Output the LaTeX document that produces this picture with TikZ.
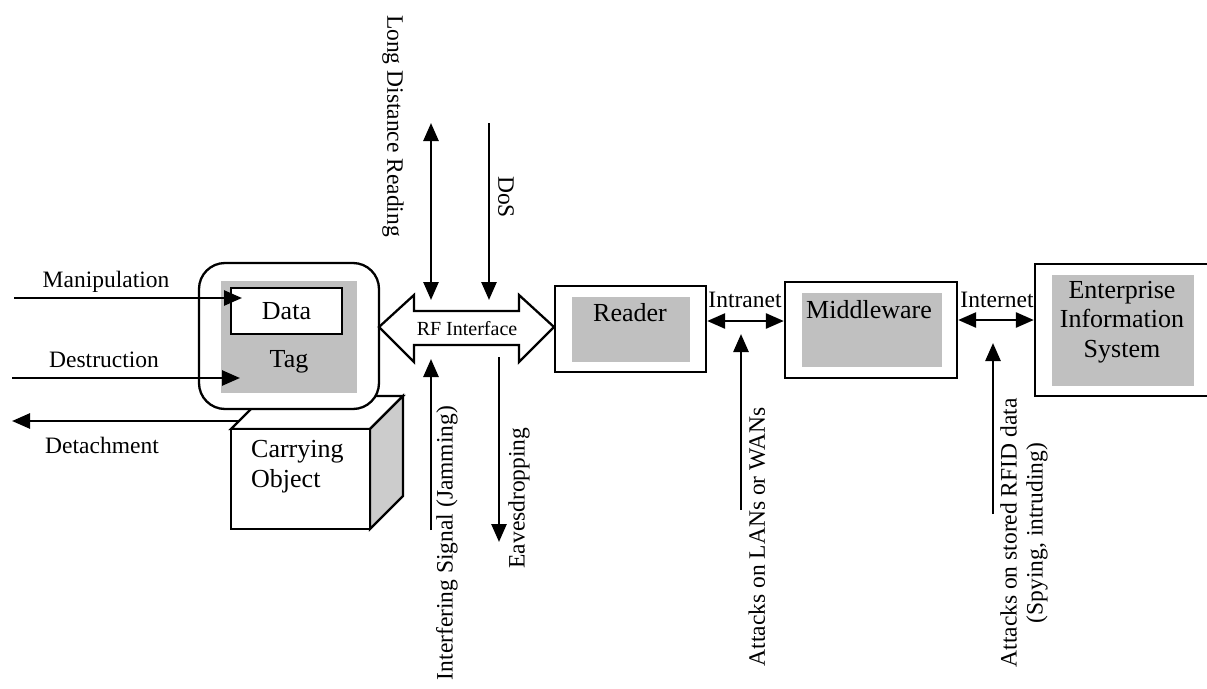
\documentclass[tikz,border=0pt]{standalone}
\usepackage{fontspec}
\setmainfont{Liberation Serif}
\usetikzlibrary{arrows.meta}
\definecolor{boxgray}{HTML}{C0C0C0}
\definecolor{sidegray}{HTML}{CCCCCC}
\begin{document}
\begin{tikzpicture}[x=1pt,y=-1pt,
  >={Triangle[length=18pt,width=15pt]},
  frame/.style={draw, fill=white, line width=2.3pt, inner sep=0pt},
  shade/.style={fill=boxgray, draw=none, inner sep=0pt},
  lbl/.style={font=\fontsize{23.5}{28}\selectfont, inner sep=0pt, align=center},
  big/.style={font=\fontsize{26}{30}\selectfont, inner sep=0pt, align=center},
  conn/.style={line width=2.6pt}]
\useasboundingbox (0,0) rectangle (1207,688);

% carrying object (cube), drawn below the tag
\draw[line width=2.3pt, fill=white] (231,429) -- (264,396) -- (403,396) -- (370,429) -- cycle;
\draw[line width=2.3pt, fill=sidegray] (370,429) -- (403,396) -- (403,496) -- (370,529) -- cycle;
\node[frame, minimum width=139pt, minimum height=100pt] (obj) at (300.5,479) {};
\node[big, anchor=west, align=left] (objtxt) at (251,467) {Carrying\\Object};
\coordinate (detachStart) at (239,421);
\coordinate (detachEnd) at (12,421);

% tag with its data
\node[frame, rounded corners=26pt, minimum width=180pt, minimum height=146pt] (tagframe) at (289,336) {};
\node[shade, minimum width=136pt, minimum height=112pt] (tag) at (289,337) {};
\node[frame, minimum width=111pt, minimum height=46pt, big] (data) at (286.5,311) {Data};
\node[big] (tagtxt) at (289,362) {Tag};

% RF interface double arrow
\draw[line width=2.3pt, fill=white] (379,327) -- (414,295) -- (414,311) -- (519,311) -- (519,295)
  -- (554,327) -- (519,362) -- (519,345) -- (414,345) -- (414,362) -- cycle;
\node[font=\fontsize{20}{24}\selectfont, inner sep=0pt] (rf) at (467,329) {RF Interface};

% reader, middleware, enterprise system
\node[frame, minimum width=151pt, minimum height=86pt] (reader) at (630.5,329) {};
\node[shade, minimum width=118pt, minimum height=65pt] (readerfill) at (631,329.5) {};
\node[big] (readertxt) at (630,313) {Reader};

\node[frame, minimum width=172pt, minimum height=96pt] (mw) at (871,330) {};
\node[shade, minimum width=140pt, minimum height=74pt] (mwfill) at (872,330) {};
\node[big] (mwtxt) at (869,310) {Middleware};

\node[frame, minimum width=182pt, minimum height=132pt] (eis) at (1126,330) {};
\node[shade, minimum width=142pt, minimum height=111pt] (eisfill) at (1123,330.5) {};
\node[big, font=\fontsize{26}{29.5}\selectfont] (eistxt) at (1122,322) {Enterprise\\Information\\System};

% attacks on the tag
\coordinate (manStart) at (14,298);
\coordinate (manEnd) at (242,298);
\coordinate (desStart) at (12,378);
\coordinate (desEnd) at (240,378);
\draw[conn,->] (manStart) -- (manEnd);
\draw[conn,->] (desStart) -- (desEnd);
\draw[conn,->] (detachStart) -- (detachEnd);
\node[lbl] (manlbl) at (106,282) {Manipulation};
\node[lbl] (deslbl) at (104,360) {Destruction};
\node[lbl] (detlbl) at (102,445) {Detachment};

% attacks on the air interface
\coordinate (ldrTop) at (431,123);
\coordinate (ldrBot) at (431,300);
\coordinate (dosTop) at (489,123);
\coordinate (dosBot) at (489,300);
\coordinate (jamBot) at (431,530);
\coordinate (jamTop) at (431,359);
\coordinate (eavTop) at (499,357);
\coordinate (eavBot) at (499,542);
\draw[conn,<->] (ldrTop) -- (ldrBot);
\draw[conn,->] (dosTop) -- (dosBot);
\draw[conn,->] (jamBot) -- (jamTop);
\draw[conn,->] (eavTop) -- (eavBot);
\node[lbl, rotate=-90] (ldrlbl) at (393,126) {Long Distance Reading};
\node[lbl, rotate=-90] (doslbl) at (506,197) {DoS};
\node[lbl, rotate=90] (jamlbl) at (447,543) {Interfering Signal (Jamming)};
\node[lbl, rotate=90] (eavlbl) at (519,498) {Eavesdropping};

% network links and their attacks
\draw[conn,<->] (reader.east |- 0,321) -- (mw.west |- 0,321);
\node[lbl] (intranet) at (745,300) {Intranet};
\draw[conn,<->] (mw.east |- 0,320) -- (eis.west |- 0,320);
\node[lbl] (internet) at (997,300) {Internet};

\coordinate (lanBot) at (741,510);
\coordinate (lanTop) at (741,334);
\draw[conn,->] (lanBot) -- (lanTop);
\node[lbl, rotate=90] (lanlbl) at (757,537) {Attacks on LANs or WANs};

\coordinate (dbBot) at (993,514);
\coordinate (dbTop) at (993,343);
\draw[conn,->] (dbBot) -- (dbTop);
\node[lbl, rotate=90, font=\fontsize{23.5}{26}\selectfont] (dblbl) at (1024,533) {Attacks on stored RFID data\\(Spying, intruding)};
\end{tikzpicture}
\end{document}
